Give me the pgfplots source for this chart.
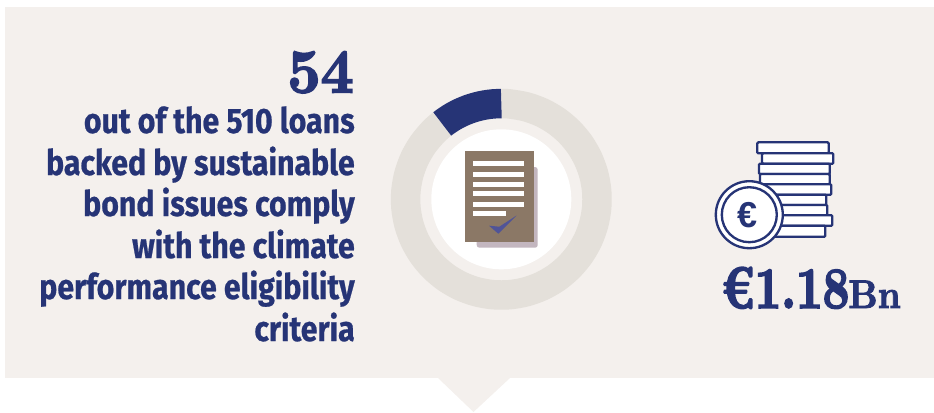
\documentclass[border=0pt]{standalone}
\usepackage{pgfplots}
\pgfplotsset{compat=1.18}
\usepackage{fontspec}
\setmainfont{Liberation Sans}
\newfontface\bodyfont[FakeStretch=0.86,FakeBold=0.6]{Fira Sans Bold}
\newfontface\dispfont[FakeBold=2.6,FakeStretch=0.92]{lmroman10-bold.otf}
\newfontface\amtfont[FakeBold=2.8,FakeStretch=0.79]{lmroman10-bold.otf}
\newfontface\bnfont[FakeBold=2,FakeStretch=0.9]{lmroman10-bold.otf}
\definecolor{navy}{RGB}{38,52,118}
\definecolor{panel}{RGB}{244,240,237}
\definecolor{ringg}{RGB}{228,224,218}
\definecolor{docb}{RGB}{139,120,102}
\definecolor{docs}{RGB}{195,182,191}
\definecolor{chk}{RGB}{80,84,152}
\begin{document}
\begin{tikzpicture}[x=0.75pt,y=-0.75pt]
\path[use as bounding box] (0,0) rectangle (934,412);
\fill[panel] (5,7) rectangle (934,378);
\fill[panel] (438,378) -- (473.5,412) -- (510,378) -- cycle;
\begin{axis}[at={(0,0)},anchor=north west,scale only axis,
  width=700.5pt,height=309pt,hide axis,clip=false,
  xmin=-501.3,xmax=432.7,ymin=-212.7,ymax=199.3]
\addplot[ringg,line width=22.1pt,smooth,no marks,data cs=polar] coordinates {
(128.1,95.75)(135,95.75)(145,95.75)(155,95.75)(165,95.75)(175,95.75)(185,95.75)(195,95.75)
(205,95.75)(215,95.75)(225,95.75)(235,95.75)(245,95.75)(255,95.75)(265,95.75)(275,95.75)
(285,95.75)(295,95.75)(305,95.75)(315,95.75)(325,95.75)(335,95.75)(345,95.75)(355,95.75)
(365,95.75)(375,95.75)(385,95.75)(395,95.75)(405,95.75)(415,95.75)(425,95.75)(435,95.75)
(445,95.75)(450,95.75)};
\addplot[navy,line width=22.1pt,smooth,no marks,data cs=polar] coordinates {
(90,95.75)(95,95.75)(100,95.75)(105,95.75)(110,95.75)(115,95.75)(120,95.75)(125,95.75)(128.1,95.75)};
\end{axis}
% centre of the ring and document icon
\fill[white] (501.3,199.3) circle[radius=70];
\fill[docs,rounded corners=2pt] (476.7,167) rectangle (537.7,247.7);
\fill[docb] (465,151) rectangle (534,242);
\fill[white] (473,161) rectangle (524,166);
\fill[white] (473,172) rectangle (524,177);
\fill[white] (473,182) rectangle (524,187);
\fill[white] (473,191) rectangle (524,196);
\fill[white] (473,202) rectangle (524,207);
\fill[white] (473,211) rectangle (506,216);
\fill[chk] (489,225.7) -- (498.3,233.7) -- (516.5,215.5) -- (499.3,226.7) -- cycle;
% coins
\foreach \a/\b/\c/\d in {757.3/142.3/828.7/153.3,762/153.3/833.3/163.7,759/163.7/829.7/174,
  760/174/829.7/184.3,760/184.3/831.3/194.7,760/194.7/826.3/205,760/205/827.3/215.3,
  760/215.3/832.3/225.7,760/225.7/825.3/236.7}{
  \filldraw[fill=white,draw=navy,line width=1.75pt,rounded corners=0.8pt] (\a,\b) rectangle (\c,\d);}
\filldraw[fill=white,draw=navy,line width=1.75pt] (749.3,214.7) circle[radius=33.5];
\draw[navy,line width=1.75pt] (749.3,214.7) circle[radius=27.5];
\node[navy,font=\fontsize{27}{27}\selectfont\bfseries,anchor=center,inner sep=0] at (747.8,214.7) {€};
% text
\node[navy,anchor=base east,inner sep=0,font=\dispfont\fontsize{47}{47}\selectfont] at (354,92.5) {54};
\foreach \t/\y in {out of the 510 loans/133,backed by sustainable/175,bond issues comply/216,
  with the climate/258,performance eligibility/299,criteria/341}{
  \node[navy,anchor=base east,inner sep=0,font=\bodyfont\fontsize{26.4}{26.4}\selectfont] at (355,\y) {\t};}
\node[navy,anchor=base west,inner sep=0,font=\amtfont\fontsize{44}{44}\selectfont] at (721,308) {€1.18};
\node[navy,anchor=base east,inner sep=0,font=\bnfont\fontsize{30}{30}\selectfont] at (901,308) {Bn};
\end{tikzpicture}
\end{document}
